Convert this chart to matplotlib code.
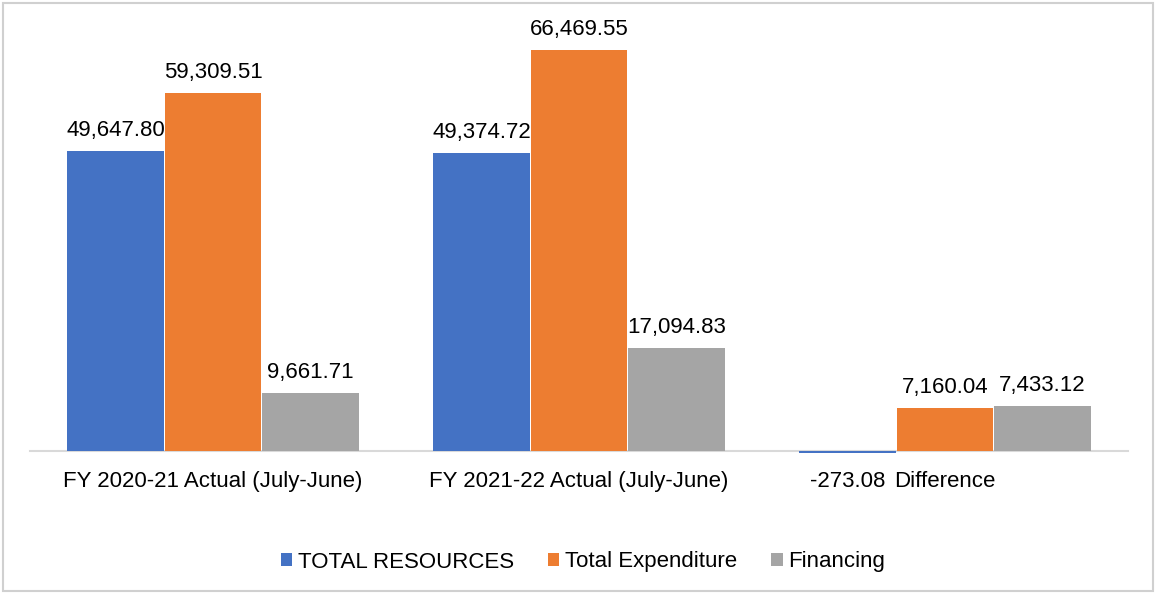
import matplotlib
matplotlib.use("Agg")
import matplotlib.pyplot as plt
import numpy as np
from matplotlib.patches import Patch, Rectangle

# Chart data
categories = ["FY 2020-21 Actual (July-June)", "FY 2021-22 Actual (July-June)", "Difference"]
series_names = ["TOTAL RESOURCES", "Total Expenditure", "Financing"]
total_resources = [49647.80, 49374.72, -273.08]
total_expenditure = [59309.51, 66469.55, 7160.04]
financing = [9661.71, 17094.83, 7433.12]
colors = ["#4472C4", "#ED7D31", "#A5A5A5"]

plt.rcParams["font.family"] = ["Liberation Sans", "DejaVu Sans"]
FS = 16

W, H = 1156, 594
fig = plt.figure(figsize=(W / 100, H / 100), dpi=100)

# Plot area placed in pixel units
left_px, right_px = 30, 1128
ymin, ymax = -10000, 70000
px_per_unit = 401 / 66469.55
top_px = 451 - ymax * px_per_unit
bottom_px = 451 - ymin * px_per_unit
ax = fig.add_axes([left_px / W, 1 - bottom_px / H,
                   (right_px - left_px) / W, (bottom_px - top_px) / H])

x = np.arange(len(categories))
step = 0.2667
bw = 0.264
all_series = [total_resources, total_expenditure, financing]
for i, (vals, col) in enumerate(zip(all_series, colors)):
    pos = x + (i - 1) * step
    ax.bar(pos, vals, width=bw, color=col, linewidth=0, zorder=3)
    for xp, v in zip(pos, vals):
        dy = 10.8 if v >= 0 else -24.8
        ax.annotate(f"{v:,.2f}", (xp, v), xytext=(0, dy),
                    textcoords="offset points", ha="center",
                    va="baseline", fontsize=FS, color="#000000")

ax.set_xlim(-0.5, 2.5)
ax.set_ylim(ymin, ymax)
for s in ["top", "left", "right"]:
    ax.spines[s].set_visible(False)
ax.spines["bottom"].set_position(("data", 0))
ax.spines["bottom"].set_color("#d9d9d9")
ax.spines["bottom"].set_linewidth(1.5)
ax.set_yticks([])
ax.set_xticks(x)
ax.set_xticklabels(categories)
ax.tick_params(axis="x", length=0, pad=14.5, labelsize=FS, labelcolor="#000000")

handles = [Patch(facecolor=c, edgecolor="none") for c in colors]
fig.legend(handles, series_names, loc="center",
           bbox_to_anchor=(583 / W, 1 - 562 / H), ncol=3, frameon=False,
           fontsize=FS, handlelength=0.5, handleheight=0.5,
           handletextpad=0.25, columnspacing=1.55)

# Outer chart frame
fig.patches.append(Rectangle((3 / W, 3 / H), (1153 - 3) / W, (591 - 3) / H,
                             transform=fig.transFigure, fill=False,
                             edgecolor="#d0d0d0", linewidth=1.5))

fig.savefig("out.png", dpi=100, facecolor="white")
